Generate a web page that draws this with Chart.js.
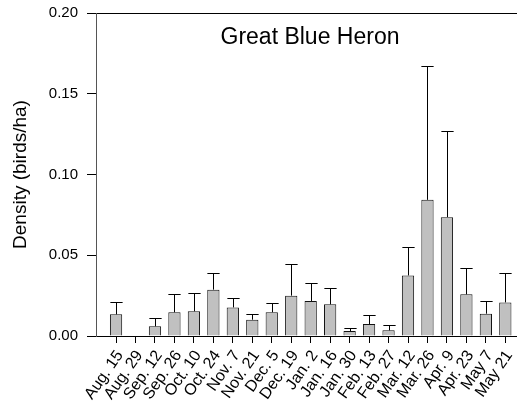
<!DOCTYPE html>
<html>
<head>
<meta charset="utf-8">
<script src="https://cdn.jsdelivr.net/npm/chart.js@4/dist/chart.umd.min.js"></script>
<style>
  body { margin: 0; background: #fff; }
  #heronChart { display: block; }
</style>
</head>
<body>
<canvas id="heronChart" width="517" height="409"></canvas>
<script>
const dateLabels = ['Aug. 15', 'Aug. 29', 'Sep. 12', 'Sep. 26', 'Oct. 10', 'Oct. 24', 'Nov. 7',
    'Nov. 21', 'Dec. 5', 'Dec. 19', 'Jan. 2', 'Jan. 16', 'Jan. 30', 'Feb. 13', 'Feb. 27',
    'Mar. 12', 'Mar. 26', 'Apr. 9', 'Apr. 23', 'May 7', 'May 21'];
const densityValues = [0.0134, 0, 0.0060, 0.0147, 0.0153, 0.0287, 0.0177, 0.0101, 0.0147, 0.0250,
    0.0217, 0.0196, 0.0031, 0.0074, 0.0035, 0.0375, 0.0843, 0.0736, 0.0258, 0.0138, 0.0208];
const errorTops = [0.0212, null, 0.0113, 0.0262, 0.0268, 0.0390, 0.0237, 0.0138, 0.0204, 0.0445,
    0.0328, 0.0299, 0.0051, 0.0132, 0.0068, 0.0549, 0.1670, 0.1270, 0.0419, 0.0217, 0.0392];
const yTicks = [0, 0.05, 0.10, 0.15, 0.20];

const fontFamily = 'Arial, "Liberation Sans", sans-serif';

// upper error bars with caps
const errorBars = {
    id: 'errorBars',
    afterDatasetsDraw(chart) {
        const ctx = chart.ctx;
        const y = chart.scales.y;
        const bars = chart.getDatasetMeta(0).data;
        ctx.save();
        ctx.strokeStyle = '#000';
        ctx.lineWidth = 1;
        bars.forEach(function (bar, i) {
            if (errorTops[i] == null) return;
            const x = Math.round(bar.x) + 0.5;
            const yTop = Math.round(y.getPixelForValue(errorTops[i])) + 0.5;
            const half = bar.width / 2;
            ctx.beginPath();
            ctx.moveTo(x, bar.y);
            ctx.lineTo(x, yTop);
            ctx.moveTo(x - half, yTop);
            ctx.lineTo(x + half, yTop);
            ctx.stroke();
        });
        ctx.restore();
    }
};

const heronCtx = document.getElementById('heronChart').getContext('2d');
const heronChart = new Chart(heronCtx, {
    type: 'bar',
    data: {
        datasets: [{
            label: 'Great Blue Heron',
            data: densityValues.map(function (v, i) { return { x: i, y: v }; }),
            backgroundColor: '#c0c0c0',
            borderColor: '#111',
            borderWidth: 1,
            barPercentage: 0.63,
            categoryPercentage: 1
        }]
    },
    options: {
        responsive: false,
        animation: false,
        layout: { padding: { top: 13, right: 0, left: 0, bottom: 0 } },
        plugins: {
            legend: { display: false },
            tooltip: { enabled: false },
            title: { display: false }
        },
        scales: {
            x: {
                type: 'linear',
                min: -1.03,
                max: 20.6,
                offset: false,
                afterBuildTicks: function (scale) {
                    scale.ticks = dateLabels.map(function (_, i) { return { value: i }; });
                },
                afterFit: function (scale) {
                    scale.height = 73;
                    scale.paddingLeft = 0;
                    scale.paddingRight = 0;
                },
                grid: {
                    offset: false,
                    drawOnChartArea: false,
                    drawTicks: true,
                    tickLength: 7,
                    tickColor: '#000'
                },
                border: { display: true, color: '#000', width: 1 },
                ticks: {
                    autoSkip: false,
                    minRotation: 55,
                    maxRotation: 55,
                    padding: 4,
                    labelOffset: 4,
                    color: '#000',
                    font: { family: fontFamily, size: 16 },
                    callback: function (value) { return dateLabels[value]; }
                }
            },
            y: {
                min: 0,
                max: 0.20,
                afterBuildTicks: function (scale) {
                    scale.ticks = yTicks.map(function (v) { return { value: v }; });
                },
                afterFit: function (scale) {
                    scale.width = 96;
                    scale.paddingTop = 0;
                    scale.paddingBottom = 0;
                },
                grid: {
                    drawOnChartArea: true,
                    tickLength: 9,
                    tickColor: '#000',
                    color: function (c) {
                        return c.tick && c.tick.value === 0.2 ? '#000' : 'rgba(0,0,0,0)';
                    }
                },
                border: { display: true, color: '#555', width: 1 },
                ticks: {
                    padding: 9,
                    color: '#000',
                    font: { family: fontFamily, size: 15 },
                    callback: function (value) { return value.toFixed(2); }
                },
                title: {
                    display: true,
                    text: 'Density (birds/ha)',
                    color: '#000',
                    font: { family: fontFamily, size: 19 },
                    padding: { top: 9, bottom: 0 }
                }
            }
        }
    },
    plugins: [errorBars, {
        id: 'innerTitle',
        afterDraw(chart) {
            const ctx = chart.ctx;
            ctx.save();
            ctx.fillStyle = '#000';
            ctx.font = '23px ' + fontFamily;
            ctx.textAlign = 'center';
            ctx.textBaseline = 'alphabetic';
            ctx.fillText('Great Blue Heron', 310, 44);
            ctx.restore();
        }
    }]
});
</script>
</body>
</html>
